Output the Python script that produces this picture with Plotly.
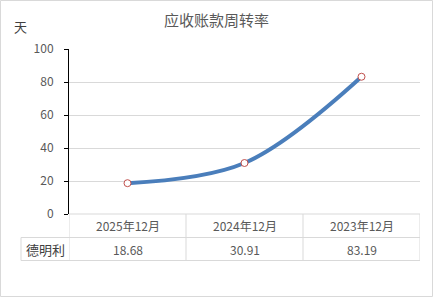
import plotly.graph_objects as go

categories = ["2025年12月", "2024年12月", "2023年12月"]
values = [18.68, 30.91, 83.19]
value_labels = ["18.68", "30.91", "83.19"]
series_name = "德明利"
title = "应收账款周转率"
y_unit = "天"
y_ticks = [0, 20, 40, 60, 80, 100]

W, H = 433, 297
L, R, T, B = 69, 13, 49, 83
pw, ph = W - L - R, H - T - B

def px_x(px):
    return (px - L) / pw

def px_y(py):
    return (H - B - py) / ph

font_fam = "Noto Sans CJK SC, Noto Sans, sans-serif"
grey_txt = "#595959"
grid = "#D9D9D9"

xs = list(range(len(categories)))
fig = go.Figure()
fig.add_trace(go.Scatter(
    x=xs, y=values, mode="lines+markers",
    line=dict(color="#4A7EBB", width=4, shape="spline", smoothing=1.0),
    marker=dict(size=7, color="white", line=dict(color="#C0504D", width=1)),
    showlegend=False, hoverinfo="skip", cliponaxis=False,
))

shapes = []
annotations = []
# outer chart border
shapes.append(dict(type="rect", xref="paper", yref="paper",
                   x0=px_x(0.5), x1=px_x(W - 0.5), y0=px_y(H - 0.5), y1=px_y(0.5),
                   line=dict(color="#D9D9D9", width=1), layer="below"))
# table
row1, row2 = px_y(237.5), px_y(260.5)
left = px_x(21)
for y0v, xl in [(0, 0), (row1, left), (row2, left)]:
    shapes.append(dict(type="line", xref="paper", yref="paper", x0=xl, x1=1, y0=y0v, y1=y0v,
                       line=dict(color=grid, width=1)))
shapes.append(dict(type="line", xref="paper", yref="paper", x0=left, x1=left, y0=row1, y1=row2,
                   line=dict(color=grid, width=1)))
for i in range(len(categories) + 1):
    xv = i - 0.5
    shapes.append(dict(type="line", xref="x", yref="paper", x0=xv, x1=xv, y0=0, y1=row2,
                       line=dict(color=grid, width=1)))
for i, (c, v) in enumerate(zip(categories, value_labels)):
    annotations.append(dict(x=i, y=(0 + row1) / 2, xref="x", yref="paper", text=c, showarrow=False,
                            xanchor="center", yanchor="middle",
                            font=dict(size=12, color=grey_txt, family=font_fam)))
    annotations.append(dict(x=i, y=(row1 + row2) / 2, xref="x", yref="paper", text=v, showarrow=False,
                            xanchor="center", yanchor="middle",
                            font=dict(size=12, color=grey_txt, family=font_fam)))
annotations.append(dict(x=(left + 0) / 2, y=(row1 + row2) / 2, xref="paper", yref="paper", text=series_name,
                        showarrow=False, xanchor="center", yanchor="middle",
                        font=dict(size=13, color="#404040", family=font_fam)))
annotations.append(dict(x=px_x(21), y=px_y(26), xref="paper", yref="paper", text=y_unit,
                        showarrow=False, xanchor="center", yanchor="middle",
                        font=dict(size=13, color="#404040", family=font_fam)))
annotations.append(dict(x=px_x(216), y=px_y(20), xref="paper", yref="paper", text=title,
                        showarrow=False, xanchor="center", yanchor="middle",
                        font=dict(size=15, color=grey_txt, family=font_fam)))

fig.update_layout(
    width=W, height=H, margin=dict(l=L, r=R, t=T, b=B),
    paper_bgcolor="white", plot_bgcolor="white",
    xaxis=dict(range=[-0.5, len(categories) - 0.5], showticklabels=False, showgrid=False,
               zeroline=False, showline=False, ticks=""),
    yaxis=dict(range=[0, 100], tickvals=y_ticks, showgrid=True, gridcolor=grid, gridwidth=1,
               zeroline=False, showline=True, linecolor="black", linewidth=1,
               ticks="outside", ticklen=4, tickcolor="black", ticklabelstandoff=8,
               tickfont=dict(size=12, color=grey_txt, family=font_fam)),
    shapes=shapes, annotations=annotations,
)
fig.write_html("out.html")
